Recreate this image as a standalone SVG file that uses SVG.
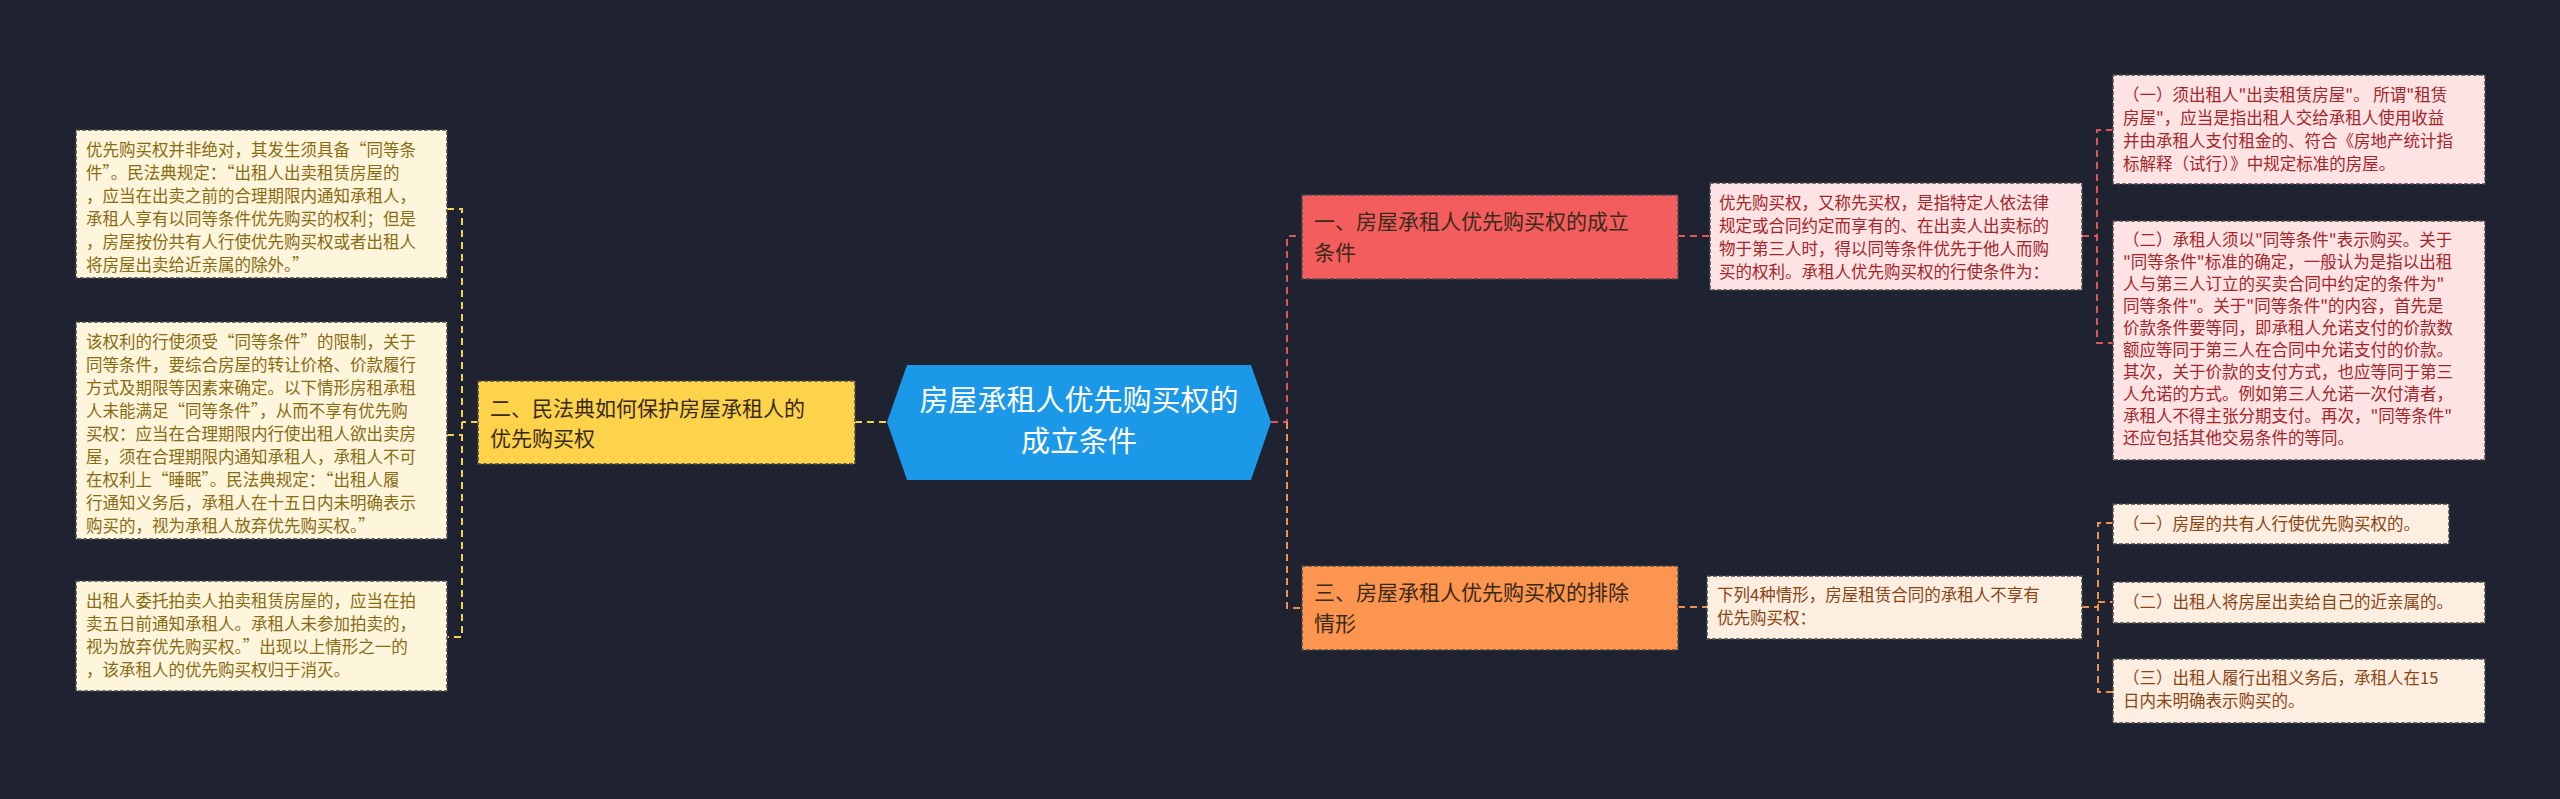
<svg xmlns="http://www.w3.org/2000/svg" width="2560" height="799" viewBox="0 0 2560 799">
<style>
text{font-family:"Noto Sans CJK SC","Noto Sans",sans-serif}
.bx{stroke:#4a4a4a;stroke-width:1.5;stroke-dasharray:4 2}
.y{fill:#fdf6dc}.yt{fill:#8a6a12;font-size:16.5px}
.p{fill:#fde3e3}.pt{fill:#a3262a;font-size:16.5px}
.o{fill:#fdeee2}.ot{fill:#8b4513;font-size:16.5px}
.nt{font-size:21px;fill:#3a2a1a}
.c{fill:none;stroke-width:2;stroke-dasharray:7 5}
</style>
<rect width="2560" height="799" fill="#1f2230"/>
<g id="connectors">
<path class="c" stroke="#f5d547" d="M855 422H887"/>
<path class="c" stroke="#f5d547" d="M478 422H462M447 209H462V637H447M447 435H462"/>
<path class="c" stroke="#e05555" d="M1271 422H1287V236H1302"/>
<path class="c" stroke="#f0904a" d="M1287 422V608H1302"/>
<path class="c" stroke="#e05555" d="M1678 236H1710M2082 236H2097M2113 130H2097V343H2113"/>
<path class="c" stroke="#f0904a" d="M1678 607H1707M2082 607H2098M2113 523H2098V692H2113M2098 602H2113"/>
</g>
<g id="center">
<path d="M907 365H1251L1271 422L1251 480H907L887 422Z" fill="#1b98e8"/>
<text x="1079" y="411" font-size="29" fill="#fff" text-anchor="middle">房屋承租人优先购买权的</text>
<text x="1079" y="452" font-size="29" fill="#fff" text-anchor="middle">成立条件</text>
</g>
<g id="n2">
<rect x="478" y="381" width="377" height="83" fill="#fcd34a" class="bx"/>
<text class="nt" x="490" y="416">二、民法典如何保护房屋承租人的</text>
<text class="nt" x="490" y="446">优先购买权</text>
</g>
<g id="n1">
<rect x="1302" y="195" width="376" height="84" fill="#f45d5d" class="bx"/>
<text class="nt" x="1314" y="229">一、房屋承租人优先购买权的成立</text>
<text class="nt" x="1314" y="260">条件</text>
</g>
<g id="n3">
<rect x="1302" y="566" width="376" height="84" fill="#fc954f" class="bx"/>
<text class="nt" x="1314" y="600">三、房屋承租人优先购买权的排除</text>
<text class="nt" x="1314" y="631">情形</text>
</g>
<g id="l1">
<rect x="76" y="130" width="371" height="148" class="bx y"/>
<text class="yt"><tspan x="86" y="156">优先购买权并非绝对，其发生须具备“同等条</tspan><tspan x="86" y="179">件”。民法典规定：“出租人出卖租赁房屋的</tspan><tspan x="86" y="202">，应当在出卖之前的合理期限内通知承租人，</tspan><tspan x="86" y="225">承租人享有以同等条件优先购买的权利；但是</tspan><tspan x="86" y="248">，房屋按份共有人行使优先购买权或者出租人</tspan><tspan x="86" y="271">将房屋出卖给近亲属的除外。”</tspan></text>
</g>
<g id="l2">
<rect x="76" y="322" width="371" height="217" class="bx y"/>
<text class="yt"><tspan x="86" y="348">该权利的行使须受“同等条件”的限制，关于</tspan><tspan x="86" y="371">同等条件，要综合房屋的转让价格、价款履行</tspan><tspan x="86" y="394">方式及期限等因素来确定。以下情形房租承租</tspan><tspan x="86" y="417">人未能满足“同等条件”，从而不享有优先购</tspan><tspan x="86" y="440">买权：应当在合理期限内行使出租人欲出卖房</tspan><tspan x="86" y="463">屋，须在合理期限内通知承租人，承租人不可</tspan><tspan x="86" y="486">在权利上“睡眠”。民法典规定：“出租人履</tspan><tspan x="86" y="509">行通知义务后，承租人在十五日内未明确表示</tspan><tspan x="86" y="532">购买的，视为承租人放弃优先购买权。”</tspan></text>
</g>
<g id="l3">
<rect x="76" y="581" width="371" height="110" class="bx y"/>
<text class="yt"><tspan x="86" y="607">出租人委托拍卖人拍卖租赁房屋的，应当在拍</tspan><tspan x="86" y="630">卖五日前通知承租人。承租人未参加拍卖的，</tspan><tspan x="86" y="653">视为放弃优先购买权。”出现以上情形之一的</tspan><tspan x="86" y="676">，该承租人的优先购买权归于消灭。</tspan></text>
</g>
<g id="d1">
<rect x="1710" y="183" width="372" height="107" class="bx p"/>
<text class="pt"><tspan x="1719" y="209">优先购买权，又称先买权，是指特定人依法律</tspan><tspan x="1719" y="232">规定或合同约定而享有的、在出卖人出卖标的</tspan><tspan x="1719" y="255">物于第三人时，得以同等条件优先于他人而购</tspan><tspan x="1719" y="278">买的权利。承租人优先购买权的行使条件为：</tspan></text>
</g>
<g id="r1">
<rect x="2113" y="75" width="372" height="109" class="bx p"/>
<text class="pt"><tspan x="2123" y="101">（一）须出租人"出卖租赁房屋"。 所谓"租赁</tspan><tspan x="2123" y="124">房屋"，应当是指出租人交给承租人使用收益</tspan><tspan x="2123" y="147">并由承租人支付租金的、符合《房地产统计指</tspan><tspan x="2123" y="170">标解释（试行）》中规定标准的房屋。</tspan></text>
</g>
<g id="r2">
<rect x="2113" y="221" width="372" height="239" class="bx p"/>
<text class="pt"><tspan x="2123" y="246">（二）承租人须以"同等条件"表示购买。关于</tspan><tspan x="2123" y="268">"同等条件"标准的确定，一般认为是指以出租</tspan><tspan x="2123" y="290">人与第三人订立的买卖合同中约定的条件为"</tspan><tspan x="2123" y="312">同等条件"。关于"同等条件"的内容，首先是</tspan><tspan x="2123" y="334">价款条件要等同，即承租人允诺支付的价款数</tspan><tspan x="2123" y="356">额应等同于第三人在合同中允诺支付的价款。</tspan><tspan x="2123" y="378">其次，关于价款的支付方式，也应等同于第三</tspan><tspan x="2123" y="400">人允诺的方式。例如第三人允诺一次付清者，</tspan><tspan x="2123" y="422">承租人不得主张分期支付。再次，"同等条件"</tspan><tspan x="2123" y="444">还应包括其他交易条件的等同。</tspan></text>
</g>
<g id="d3">
<rect x="1707" y="576" width="375" height="63" class="bx o"/>
<text class="ot"><tspan x="1717" y="601">下列4种情形，房屋租赁合同的承租人不享有</tspan><tspan x="1717" y="624">优先购买权：</tspan></text>
</g>
<g id="o1">
<rect x="2113" y="504" width="336" height="40" class="bx o"/>
<text class="ot" x="2123" y="530">（一）房屋的共有人行使优先购买权的。</text>
</g>
<g id="o2">
<rect x="2113" y="582" width="372" height="41" class="bx o"/>
<text class="ot" x="2123" y="608">（二）出租人将房屋出卖给自己的近亲属的。</text>
</g>
<g id="o3">
<rect x="2113" y="659" width="372" height="64" class="bx o"/>
<text class="ot"><tspan x="2123" y="684">（三）出租人履行出租义务后，承租人在15</tspan><tspan x="2123" y="707">日内未明确表示购买的。</tspan></text>
</g>
</svg>
